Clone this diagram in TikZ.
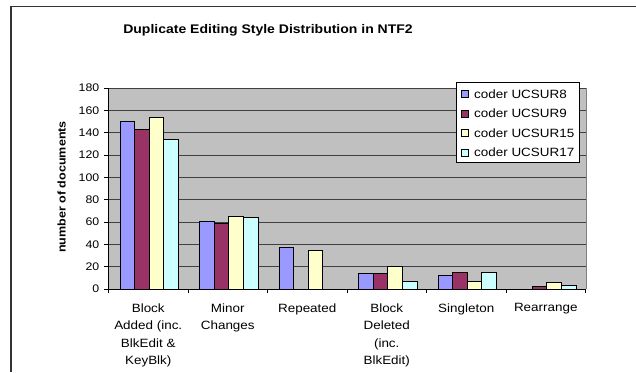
\documentclass[tikz,border=0pt]{standalone}
\usepackage{fontspec}
\setmainfont[FakeStretch=1.12]{Liberation Sans}
\definecolor{barA}{HTML}{9999FF}
\definecolor{barB}{HTML}{993366}
\definecolor{barC}{HTML}{FFFFCC}
\definecolor{barD}{HTML}{CCFFFF}
\definecolor{plotbg}{HTML}{C0C0C0}
\tikzset{
  frameline/.style={draw=black!80,line width=1.3pt},
  gridline/.style={draw=black!75,line width=1pt},
  axisline/.style={draw=black,line width=0.8pt},
  barbox/.style={draw=black,line width=0.7pt},
  ticklab/.style={anchor=east,inner sep=0pt,font=\fontsize{11}{12}\selectfont},
  catlab/.style={anchor=north,inner sep=0pt,align=center,font=\fontsize{12}{17.3}\selectfont},
  leglab/.style={anchor=west,inner sep=0pt,font=\fontsize{12}{13}\selectfont},
  legmark/.style={draw=black,line width=0.5pt}
}
\begin{document}
\begin{tikzpicture}[x=1pt,y=-1pt]
\useasboundingbox (0,0) rectangle (636,372);
\fill[white] (0,0) rectangle (636,372);
\draw[frameline] (11,372) -- (11,6.3) -- (636,6.3);
% plot area
\fill[plotbg] (108.5,88) rectangle (586,289);
\foreach \v in {20,40,...,180}
  \draw[gridline] (108.5,{289-\v*1.116667}) -- (586,{289-\v*1.116667});
\draw[draw=black!50,line width=0.8pt] (586,88) -- (586,289);
% bars
\foreach \vals [count=\c from 0] in {{150,143,154,134},{61,59,65,64},{37,0,35,0},{14,14,20,7},{12,15,7,15},{0,2,6,3}}{
  \foreach \v [count=\i from 0] in \vals {
    \ifnum\v>0
      \pgfmathsetmacro{\xl}{108.5+79.5*\c+11.5+14.6*\i}
      \ifcase\i \def\bc{barA}\or \def\bc{barB}\or \def\bc{barC}\else \def\bc{barD}\fi
      \filldraw[barbox,fill=\bc] (\xl,289) rectangle ({\xl+14.6},{289-\v*1.116667});
    \fi
  }
}
% axes
\draw[axisline] (108.5,88) -- (108.5,289) -- (586,289);
\foreach \v in {0,20,...,180}{
  \draw[axisline] (104,{289-\v*1.116667}) -- (108.5,{289-\v*1.116667});
  \node[ticklab] (tick\v) at (99.5,{289-\v*1.116667}) {\v};
}
\foreach \k in {0,...,6}
  \draw[axisline] ({108.5+79.5*\k},289) -- ({108.5+79.5*\k},293);
% category labels
\foreach \t [count=\c from 0] in {{Block\\Added (inc.\\BlkEdit \&\\KeyBlk)},{Minor\\Changes},{Repeated},{Block\\Deleted\\(inc.\\BlkEdit)},{Singleton},{Rearrange}}
  \node[catlab] (cat\c) at ({148.25+79.5*\c},303.5) {\t};
% legend
\filldraw[draw=black,line width=0.8pt,fill=white] (456,82.3) rectangle (579.3,162.3);
\foreach \n/\col/\y [count=\i] in {UCSUR8/barA/94,UCSUR9/barB/113.5,UCSUR15/barC/133,UCSUR17/barD/152.7}{
  \filldraw[legmark,fill=\col] (461.5,{\y-3.5}) rectangle (468.5,{\y+3.5});
  \node[leglab] (leg\i) at (474,\y) {coder \n};
}
% title and axis title
\node[font=\bfseries\fontsize{12.5}{15}\selectfont,inner sep=0pt] (title) at (268,30) {Duplicate Editing Style Distribution in NTF2};
\node[font=\bfseries\fontsize{11.2}{13}\selectfont,inner sep=0pt,rotate=90] (ylab) at (61.5,187) {number of documents};
\end{tikzpicture}
\end{document}
